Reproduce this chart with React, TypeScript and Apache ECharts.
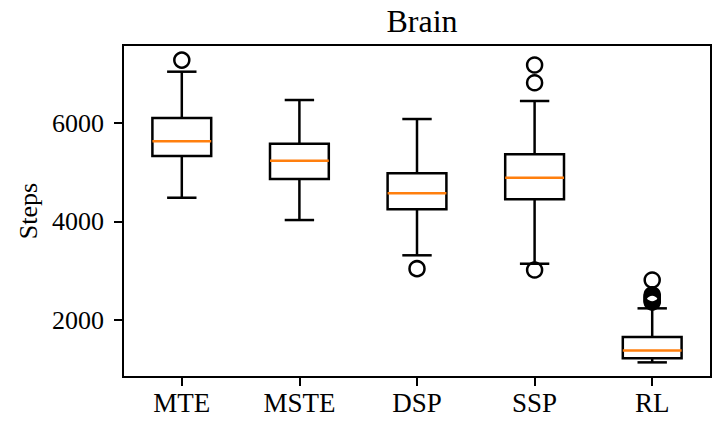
import React, { useEffect, useRef } from "react";
import * as echarts from "echarts";

const categories = ["MTE", "MSTE", "DSP", "SSP", "RL"];
const whiskerLow = [4483, 4030, 3314, 3143, 1140];
const q1 = [5330, 4863, 4248, 4450, 1225];
const median = [5628, 5235, 4573, 4889, 1380];
const q3 = [6102, 5580, 4979, 5364, 1655];
const whiskerHigh = [7042, 6467, 6081, 6447, 2237];
const outlierCats = ["MTE", "DSP", "SSP", "SSP", "SSP", "RL", "RL", "RL", "RL", "RL", "RL", "RL"];
const outlierValues = [7278, 3042, 7178, 6818, 3015, 2812, 2510, 2480, 2450, 2420, 2390, 2365];
const yTicks = [2000, 4000, 6000];

const FONT = "'Liberation Serif', 'DejaVu Serif', serif";

export default function App() {
  const ref = useRef<HTMLDivElement>(null);
  useEffect(() => {
    if (!ref.current) return;
    const chart = echarts.init(ref.current, null, { renderer: "svg" });
    const boxData = categories.map((_, i) => [i, whiskerLow[i], q1[i], median[i], q3[i], whiskerHigh[i]]);
    const outlierData = outlierCats.map((c, i) => [categories.indexOf(c), outlierValues[i]]);
    const lw = 2.5;
    chart.setOption({
      animation: false,
      title: {
        text: "Brain",
        left: 417,
        top: 0,
        textAlign: "center",
        textStyle: { fontFamily: FONT, fontSize: 32, fontWeight: "normal", color: "#000" },
      },
      grid: {
        left: 123,
        right: 7,
        top: 45,
        bottom: 45,
        show: true,
        borderColor: "#000",
        borderWidth: 2,
        containLabel: false,
      },
      xAxis: {
        type: "category",
        data: categories,
        boundaryGap: true,
        axisLine: { show: true, lineStyle: { color: "#000", width: 2 } },
        axisTick: { show: true, alignWithLabel: true, length: 9, lineStyle: { color: "#000", width: 2 } },
        axisLabel: { fontFamily: FONT, fontSize: 27, color: "#000", margin: 12 },
        splitLine: { show: false },
      },
      yAxis: {
        type: "value",
        min: 843,
        max: 7584,
        name: "Steps",
        nameLocation: "middle",
        nameGap: 82,
        nameTextStyle: { fontFamily: FONT, fontSize: 26, color: "#000" },
        axisLine: { show: true, lineStyle: { color: "#000", width: 2 } },
        axisTick: { show: true, length: 9, lineStyle: { color: "#000", width: 2 }, customValues: yTicks },
        axisLabel: {
          fontFamily: FONT,
          fontSize: 26,
          color: "#000",
          margin: 19,
          customValues: yTicks,
          formatter: (v: number) => String(v),
        },
        splitLine: { show: false },
      },
      series: [
        {
          type: "custom",
          data: boxData,
          encode: { x: 0, y: [1, 2, 3, 4, 5] },
          renderItem: (params: any, api: any) => {
            const idx = api.value(0);
            const band = api.size([1, 0])[0];
            const boxW = band * 0.5;
            const capW = band * 0.25;
            const pLow = api.coord([idx, api.value(1)]);
            const pQ1 = api.coord([idx, api.value(2)]);
            const pMed = api.coord([idx, api.value(3)]);
            const pQ3 = api.coord([idx, api.value(4)]);
            const pHigh = api.coord([idx, api.value(5)]);
            const cx = pMed[0];
            const black = { stroke: "#000", lineWidth: lw };
            return {
              type: "group",
              children: [
                { type: "line", shape: { x1: cx, y1: pLow[1], x2: cx, y2: pQ1[1] }, style: black },
                { type: "line", shape: { x1: cx, y1: pQ3[1], x2: cx, y2: pHigh[1] }, style: black },
                { type: "line", shape: { x1: cx - capW / 2, y1: pLow[1], x2: cx + capW / 2, y2: pLow[1] }, style: black },
                { type: "line", shape: { x1: cx - capW / 2, y1: pHigh[1], x2: cx + capW / 2, y2: pHigh[1] }, style: black },
                {
                  type: "rect",
                  shape: { x: cx - boxW / 2, y: pQ3[1], width: boxW, height: pQ1[1] - pQ3[1] },
                  style: { fill: "transparent", stroke: "#000", lineWidth: lw },
                },
                {
                  type: "line",
                  shape: { x1: cx - boxW / 2, y1: pMed[1], x2: cx + boxW / 2, y2: pMed[1] },
                  style: { stroke: "#ff7f0e", lineWidth: lw },
                },
              ],
            };
          },
        },
        {
          type: "scatter",
          data: outlierData,
          symbol: "circle",
          symbolSize: 15,
          itemStyle: { color: "rgba(0,0,0,0)", borderColor: "#000", borderWidth: lw, opacity: 1 },
        },
      ],
    });
    return () => chart.dispose();
  }, []);
  return (
    <div
      ref={ref}
      style={{ position: "fixed", left: 0, top: 0, width: 718, height: 422, background: "#fff" }}
    />
  );
}
